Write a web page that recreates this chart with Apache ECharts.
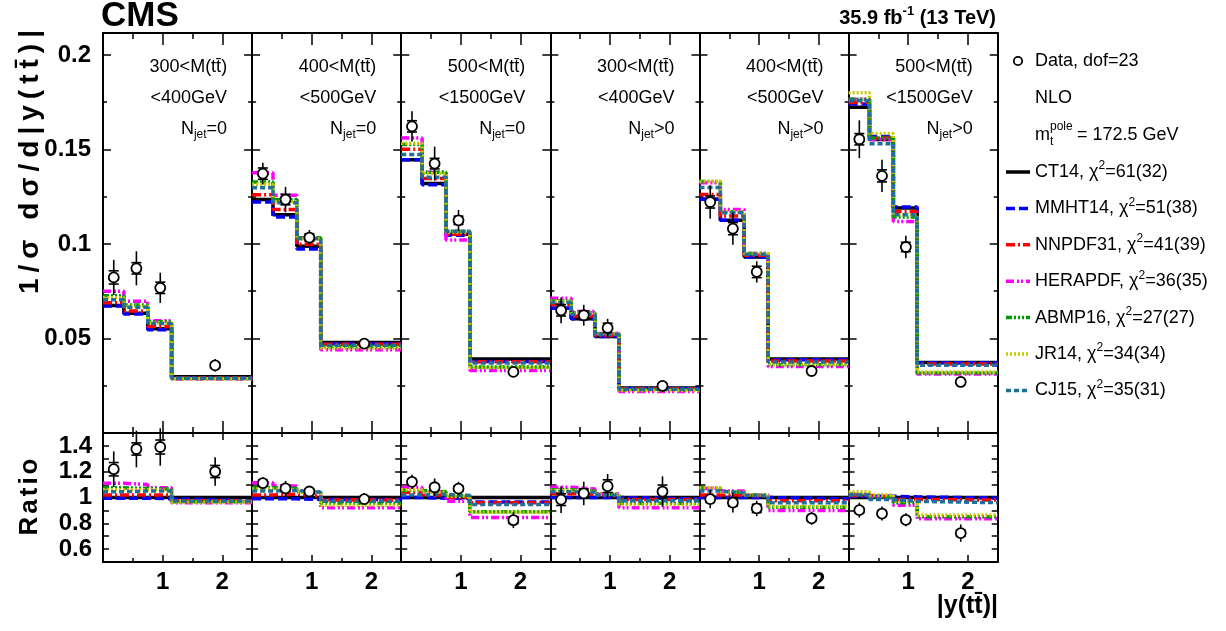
<!DOCTYPE html>
<html><head><meta charset="utf-8">
<script src="https://cdn.jsdelivr.net/npm/echarts@6/dist/echarts.min.js"></script>
<style>html,body{margin:0;padding:0;background:#fff}#c{width:1226px;height:631px}</style>
</head><body><div id="c"></div>
<script>
// ---------------- DATA ----------------
const binEdges = [0, 0.35, 0.75, 1.15, 2.5];
const dataX = [0.18, 0.56, 0.96, 1.88];
const massLo = ['300<M(tt\u0304)', '400<M(tt\u0304)', '500<M(tt\u0304)', '300<M(tt\u0304)', '400<M(tt\u0304)', '500<M(tt\u0304)'];
const massHi = ['<400GeV', '<500GeV', '<1500GeV', '<400GeV', '<500GeV', '<1500GeV'];
const njetCut = ['=0', '=0', '=0', '>0', '>0', '>0'];

const pdfNames = ['CT14', 'MMHT14', 'NNPDF31', 'HERAPDF', 'ABMP16', 'JR14', 'CJ15'];
const chi2Text = ['61(32)', '51(38)', '41(39)', '36(35)', '27(27)', '34(34)', '35(31)'];

// CT14 prediction (reference for ratio), per panel, per bin
const ct14 = [
  [0.0675, 0.0633, 0.0552, 0.0298],
  [0.1235, 0.1154, 0.0988, 0.0479],
  [0.1446, 0.1320, 0.1052, 0.0392],
  [0.0660, 0.0604, 0.0511, 0.0238],
  [0.1237, 0.1126, 0.0931, 0.0391],
  [0.1723, 0.1553, 0.1190, 0.0373]
];
// other PDFs: ratio to CT14
const ratioMMHT14 = [
  [0.995, 0.995, 0.99, 0.975], [0.99, 0.99, 0.985, 0.985], [1.0, 0.995, 0.995, 0.965],
  [1.0, 1.0, 1.0, 0.99], [1.0, 1.0, 1.0, 0.99], [1.01, 1.01, 1.005, 0.995]
];
const ratioNNPDF31 = [
  [1.02, 1.02, 1.02, 0.975], [1.02, 1.025, 1.01, 0.98], [1.038, 1.02, 1.0, 0.96],
  [1.03, 1.025, 1.01, 0.985], [1.02, 1.02, 1.01, 0.975], [1.015, 1.005, 0.985, 0.98]
];
const ratioHERAPDF = [
  [1.11, 1.10, 1.075, 0.96], [1.115, 1.09, 1.045, 0.92], [1.079, 1.045, 0.97, 0.845],
  [1.08, 1.065, 1.03, 0.92], [1.07, 1.05, 1.02, 0.90], [1.025, 1.0, 0.94, 0.835]
];
const ratioABMP16 = [
  [1.075, 1.07, 1.065, 0.968], [1.075, 1.07, 1.045, 0.955], [1.055, 1.045, 1.015, 0.89],
  [1.06, 1.05, 1.025, 0.955], [1.075, 1.04, 1.02, 0.925], [1.025, 1.005, 0.96, 0.85]
];
const ratioJR14 = [
  [1.06, 1.06, 1.055, 0.965], [1.065, 1.06, 1.04, 0.94], [1.06, 1.04, 1.01, 0.885],
  [1.055, 1.045, 1.025, 0.945], [1.075, 1.04, 1.02, 0.93], [1.045, 1.02, 0.97, 0.865]
];
const ratioCJ15 = [
  [1.045, 1.05, 1.05, 0.972], [1.05, 1.055, 1.04, 0.97], [1.019, 1.025, 1.015, 0.945],
  [1.045, 1.04, 1.02, 0.975], [1.05, 1.035, 1.015, 0.96], [1.02, 0.985, 0.97, 0.96]
];
// measured data
const dataVal = [
  [0.0823, 0.0871, 0.0768, 0.0358],
  [0.1372, 0.1235, 0.1034, 0.0473],
  [0.1622, 0.1425, 0.1125, 0.0323],
  [0.0649, 0.0623, 0.0556, 0.0249],
  [0.1222, 0.1081, 0.0852, 0.0328],
  [0.1554, 0.1360, 0.0984, 0.0270]
];
const dataErrTot = [
  [0.0093, 0.0090, 0.0080, 0.0033],
  [0.0058, 0.0067, 0.0040, 0.0022],
  [0.0080, 0.0090, 0.0055, 0.0024],
  [0.0068, 0.0055, 0.0048, 0.0028],
  [0.0088, 0.0085, 0.0056, 0.0020],
  [0.0100, 0.0085, 0.0060, 0.0025]
];
const dataErrStat = [
  [0.0035, 0.0030, 0.0030, 0.0014],
  [0.0030, 0.0028, 0.0020, 0.0008],
  [0.0030, 0.0028, 0.0022, 0.0010],
  [0.0030, 0.0022, 0.0025, 0.0012],
  [0.0032, 0.0032, 0.0030, 0.0007],
  [0.0030, 0.0032, 0.0025, 0.0009]
];
const upperYTicks = ['0.05', '0.1', '0.15', '0.2'];
const lowerYTicks = ['0.6', '0.8', '1', '1.2', '1.4'];
const xTickLabels = ['1', '2'];

// ---------------- STYLE ----------------
const FONT = '"Liberation Sans", Arial, Helvetica, sans-serif';
const pdfColors = ['#000000', '#0000ff', '#ff0000', '#ff00ff', '#009a00', '#c8c800', '#1f6e9c'];
const pdfDash = ['solid', [9, 4], [9, 3, 2, 3], [8, 3, 2, 2, 2, 3], [6, 2, 2, 2, 2, 2, 2, 2], [2, 2], [5, 3]];
const ratioArrays = [null, ratioMMHT14, ratioNNPDF31, ratioHERAPDF, ratioABMP16, ratioJR14, ratioCJ15];

const NP = 6;
const gLeft = 103, gW = 149.12;
const upTop = 33, upH = 400, loTop = 433, loH = 129;

const grids = [], xAxes = [], yAxes = [], series = [];

function stepPoints(vals) {
  const pts = [];
  for (let i = 0; i < vals.length; i++) pts.push([binEdges[i], vals[i]]);
  pts.push([binEdges[binEdges.length - 1], vals[vals.length - 1]]);
  return pts;
}
function fmtX(v) {
  const s = String(Math.round(v * 100) / 100);
  return xTickLabels.indexOf(s) >= 0 ? s : '';
}
function fmtUp(v) {
  const s = String(Math.round(v * 1000) / 1000);
  return upperYTicks.indexOf(s) >= 0 ? s : '';
}
function fmtLo(v) {
  const s = String(Math.round(v * 100) / 100);
  return lowerYTicks.indexOf(s) >= 0 ? s : '';
}
const lblStyle = { color: '#000', fontFamily: FONT, fontWeight: 'bold', fontSize: 24 };

function errRender(params, api) {
  const x = api.value(0), y = api.value(1), et = api.value(2), es = api.value(3);
  const c = api.coord([x, y]);
  const t = api.coord([x, y + et]);
  const b = api.coord([x, y - et]);
  const st = api.coord([x, y + es]);
  const sb = api.coord([x, y - es]);
  const w = 5;
  const style = { stroke: '#000', lineWidth: 1.6 };
  return { type: 'group', children: [
    { type: 'line', shape: { x1: c[0], y1: t[1], x2: c[0], y2: b[1] }, style },
    { type: 'line', shape: { x1: c[0] - w, y1: st[1], x2: c[0] + w, y2: st[1] }, style },
    { type: 'line', shape: { x1: c[0] - w, y1: sb[1], x2: c[0] + w, y2: sb[1] }, style }
  ]};
}

for (let p = 0; p < NP; p++) {
  for (let lower = 0; lower < 2; lower++) {
    const gi = grids.length;
    grids.push({ left: gLeft + p * gW, width: gW, top: lower ? loTop : upTop, height: lower ? loH : upH,
      show: false, containLabel: false, outerBoundsMode: 'none' });
    const axLine = { show: true, onZero: false, lineStyle: { color: '#000', width: 2 } };
    const tickLS = { color: '#000', width: 1.5 };
    ['bottom', 'top'].forEach((pos, k) => {
      xAxes.push({ type: 'value', gridIndex: gi, position: pos, min: 0, max: 2.5, interval: 1,
        axisLine: axLine,
        axisTick: { show: true, inside: true, length: lower ? 7 : 12, lineStyle: tickLS },
        minorTick: { show: true, splitNumber: 2, length: lower ? 4 : 6, lineStyle: tickLS },
        axisLabel: { show: lower === 1 && k === 0, formatter: fmtX, margin: 8, ...lblStyle },
        splitLine: { show: false }, minorSplitLine: { show: false } });
    });
    ['left', 'right'].forEach((pos, k) => {
      if (lower) {
        yAxes.push({ type: 'value', gridIndex: gi, position: pos, min: 0.5, max: 1.5, interval: 0.1,
          axisLine: axLine,
          axisTick: { show: true, inside: true, length: 6, lineStyle: tickLS },
          axisLabel: { show: p === 0 && k === 0, formatter: fmtLo, margin: 11, ...lblStyle },
          splitLine: { show: false } });
      } else {
        yAxes.push({ type: 'value', gridIndex: gi, position: pos, min: 0, max: 0.2116, interval: 0.05,
          axisLine: axLine,
          axisTick: { show: true, inside: true, length: 8, lineStyle: tickLS },
          minorTick: { show: true, splitNumber: 2, length: 4, lineStyle: tickLS },
          axisLabel: { show: p === 0 && k === 0, formatter: fmtUp, margin: 12, ...lblStyle },
          splitLine: { show: false }, minorSplitLine: { show: false } });
      }
    });
    const xi = xAxes.length - 2, yi = yAxes.length - 2;
    for (let s = 0; s < pdfNames.length; s++) {
      let vals;
      if (s === 0) vals = lower ? ct14[p].map(() => 1) : ct14[p].slice();
      else vals = lower ? ratioArrays[s][p].slice() : ratioArrays[s][p].map((r, i) => r * ct14[p][i]);
      series.push({ type: 'line', name: pdfNames[s], xAxisIndex: xi, yAxisIndex: yi, step: 'end',
        data: stepPoints(vals), symbol: 'none', silent: true, animation: false, z: 2 + s * 0.1,
        lineStyle: { color: pdfColors[s], width: 3.5, type: pdfDash[s] } });
    }
    const pts = dataVal[p].map((v, i) => {
      const den = lower ? ct14[p][i] : 1;
      return [dataX[i], v / den, dataErrTot[p][i] / den, dataErrStat[p][i] / den];
    });
    series.push({ type: 'custom', xAxisIndex: xi, yAxisIndex: yi, renderItem: errRender,
      data: pts, encode: { x: 0, y: 1 }, z: 5, silent: true, animation: false });
    series.push({ type: 'scatter', xAxisIndex: xi, yAxisIndex: yi, data: pts.map(d => [d[0], d[1]]),
      symbol: 'circle', symbolSize: 10, z: 8, silent: true, animation: false,
      itemStyle: { color: '#ffffff', opacity: 1, borderColor: '#000', borderWidth: 1.8 } });
  }
}

// ---------------- GRAPHIC TEXT ----------------
const graphic = [];
function txt(x, y, text, opts) {
  graphic.push({ type: 'text', x, y, silent: true,
    style: Object.assign({ text, fill: '#000', font: '18px ' + FONT, align: 'left', verticalAlign: 'middle' }, opts || {}) });
}
const sub = (fs) => ({ fontSize: fs, fontFamily: FONT, lineHeight: fs, verticalAlign: 'bottom', fill: '#000' });
const sup = (fs) => ({ fontSize: fs, fontFamily: FONT, lineHeight: fs, verticalAlign: 'top', fill: '#000' });
const nrm = (fs, bold) => ({ fontSize: fs, fontFamily: FONT, fontWeight: bold ? 'bold' : 'normal', lineHeight: fs + 6, fill: '#000' });

for (let p = 0; p < NP; p++) {
  const xr = gLeft + (p + 1) * gW - 25;
  txt(xr, 67, massLo[p], { align: 'right' });
  txt(xr, 98, massHi[p], { align: 'right' });
  txt(xr, 129, '{a|N}{b|jet}{a|' + njetCut[p] + '}', { align: 'right',
    rich: { a: nrm(18), b: sub(12) } });
}

// CMS + lumi
txt(101, 16, 'CMS', { font: 'bold 35px ' + FONT });
txt(996, 18, '{a|35.9 fb}{b|-1}{a| (13 TeV)}', { align: 'right',
  rich: { a: nrm(20, true), b: Object.assign(sup(13), { fontWeight: 'bold' }) } });

// axis titles (spaced characters, as in the original typesetting)
const yTitleChars = ['1', '/', '\u03c3', ' ', 'd', '\u03c3', '/', 'd', '|', 'y', '(', 't', 't\u0304', ')', '|'];
graphic.push({ type: 'text', x: 30, y: 162, rotation: Math.PI / 2, silent: true,
  style: { text: yTitleChars.map(c => '{c|' + c + '}').join(''), align: 'center', verticalAlign: 'middle',
    rich: { c: { fontSize: 28, fontWeight: 'bold', fontFamily: FONT, fill: '#000', padding: [0, 3, 0, 3] } } } });
graphic.push({ type: 'text', x: 30, y: 497, rotation: Math.PI / 2, silent: true,
  style: { text: ['R', 'a', 't', 'i', 'o'].map(c => '{c|' + c + '}').join(''), align: 'center', verticalAlign: 'middle',
    rich: { c: { fontSize: 26, fontWeight: 'bold', fontFamily: FONT, fill: '#000', padding: [0, 1.5, 0, 1.5] } } } });
txt(998, 606, '|y(tt\u0304)|', { align: 'right', font: 'bold 25px ' + FONT });

// legend
graphic.push({ type: 'circle', shape: { cx: 1018, cy: 61, r: 4.2 }, silent: true,
  style: { fill: '#fff', stroke: '#000', lineWidth: 1.8 } });
txt(1035, 61, 'Data, dof=23');
txt(1035, 98, 'NLO');
txt(1035, 135, 'm');
txt(1050, 127, 'pole', { font: '12px ' + FONT });
txt(1050, 142, 't', { font: '12px ' + FONT });
txt(1077, 135, '= 172.5 GeV');
for (let s = 0; s < pdfNames.length; s++) {
  const y = 172 + s * 36.4;
  graphic.push({ type: 'line', shape: { x1: 1006, y1: y, x2: 1030, y2: y }, silent: true,
    style: { stroke: pdfColors[s], lineWidth: 3.5, lineDash: pdfDash[s] === 'solid' ? null : pdfDash[s] } });
  txt(1035, y, '{a|' + pdfNames[s] + ', }{c|\u03c7}{b|2}{a|=' + chi2Text[s] + '}',
    { rich: { a: nrm(18), c: nrm(18), b: sup(12) } });
}

const chart = echarts.init(document.getElementById('c'), null, { renderer: 'canvas' });
chart.setOption({
  animation: false,
  backgroundColor: '#fff',
  grid: grids, xAxis: xAxes, yAxis: yAxes, series: series, graphic: graphic
});
</script>
</body></html>
